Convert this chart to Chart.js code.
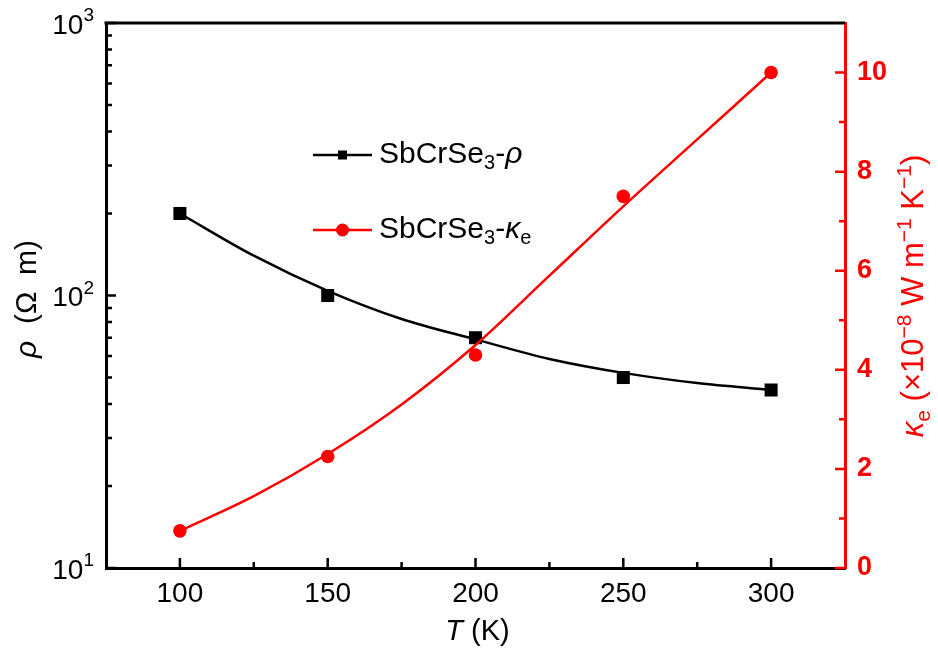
<!DOCTYPE html>
<html>
<head>
<meta charset="utf-8">
<script src="https://cdn.jsdelivr.net/npm/chart.js@4/dist/chart.umd.min.js"></script>
<style>
  body { margin: 0; background: #fff; }
  canvas { display: block; }
</style>
</head>
<body>
<canvas id="chart" width="938" height="651"></canvas>
<script>
// measured points
const temps = [100, 150, 200, 250, 300];
const rhoVals = [200, 100, 70, 50, 45];
const kappaVals = [0.75, 2.25, 4.3, 7.5, 10.0];

// fitted curves
const fitTemps = [100, 125, 150, 175, 200, 225, 250, 275, 300];
const rhoFit = [200, 140, 104, 82, 69, 58.5, 52, 47.7, 45];
const kappaFit = [0.75, 1.45, 2.3, 3.3, 4.5, 5.9, 7.3, 8.65, 10.0];

// ticks
const xTicks = [100, 150, 200, 250, 300];
const xMinor = [125, 175, 225, 275];
const logTicks = [10, 100, 1000];
const kTicks = [0, 2, 4, 6, 8, 10];
const kMinor = [1, 3, 5, 7, 9];

const FONT = '"Liberation Sans", Arial, sans-serif';
const RED = '#ff0000';

function pts(xs, ys) {
  return xs.map((x, i) => ({ x: x, y: ys[i] }));
}

// draw a run of text pieces: {t, size, style, dy}
function richWidth(ctx, parts) {
  let w = 0;
  parts.forEach(p => {
    ctx.font = (p.style || '') + ' ' + p.size + 'px ' + FONT;
    w += ctx.measureText(p.t).width;
  });
  return w;
}
function drawRich(ctx, parts, x, y) {
  let cx = x;
  parts.forEach(p => {
    ctx.font = (p.style || '') + ' ' + p.size + 'px ' + FONT;
    ctx.fillText(p.t, cx, y + (p.dy || 0));
    cx += ctx.measureText(p.t).width;
  });
}

function noPad(s) {
  s.paddingTop = 0;
  s.paddingBottom = 0;
}

const decorPlugin = {
  id: 'decor',
  afterDraw(chart) {
    const { ctx, chartArea: a, scales } = chart;
    const sx = scales.x, sy = scales.y, sk = scales.y2;
    ctx.save();
    ctx.lineCap = 'butt';

    // top frame line
    ctx.strokeStyle = '#000';
    ctx.lineWidth = 3;
    ctx.beginPath();
    ctx.moveTo(a.left - 1.5, a.top);
    ctx.lineTo(a.right, a.top);
    ctx.stroke();

    // x ticks (inward)
    ctx.lineWidth = 2.5;
    ctx.beginPath();
    xTicks.forEach(v => { const px = sx.getPixelForValue(v); ctx.moveTo(px, a.bottom); ctx.lineTo(px, a.bottom - 10); });
    xMinor.forEach(v => { const px = sx.getPixelForValue(v); ctx.moveTo(px, a.bottom); ctx.lineTo(px, a.bottom - 6); });
    // left log ticks
    logTicks.forEach(v => { const py = sy.getPixelForValue(v); ctx.moveTo(a.left, py); ctx.lineTo(a.left + 10, py); });
    [10, 100].forEach(dec => {
      for (let m = 2; m <= 9; m++) {
        const py = sy.getPixelForValue(dec * m);
        ctx.moveTo(a.left, py); ctx.lineTo(a.left + 6, py);
      }
    });
    ctx.stroke();

    // right ticks (red)
    ctx.strokeStyle = RED;
    ctx.beginPath();
    kTicks.forEach(v => { const py = sk.getPixelForValue(v); ctx.moveTo(a.right, py); ctx.lineTo(a.right - 10, py); });
    kMinor.forEach(v => { const py = sk.getPixelForValue(v); ctx.moveTo(a.right, py); ctx.lineTo(a.right - 6, py); });
    ctx.stroke();

    // left log tick labels 10^n
    ctx.fillStyle = '#000';
    ctx.textBaseline = 'middle';
    ctx.textAlign = 'left';
    logTicks.forEach(v => {
      const py = sy.getPixelForValue(v) + 3;
      const parts = [
        { t: '10', size: 28 },
        { t: String(Math.round(Math.log10(v))), size: 19, dy: -10 }
      ];
      const w = richWidth(ctx, parts);
      drawRich(ctx, parts, 94 - w, py);
    });

    // x title
    ctx.textBaseline = 'alphabetic';
    const tParts = [
      { t: 'T', size: 29, style: 'italic' },
      { t: ' (K)', size: 29 }
    ];
    let w = richWidth(ctx, tParts);
    drawRich(ctx, tParts, (a.left + a.right) / 2 - w / 2 + 2, 640);

    // left title (rotated)
    ctx.save();
    ctx.translate(36, 299);
    ctx.rotate(-Math.PI / 2);
    const lParts = [
      { t: 'ρ', size: 30, style: 'italic' },
      { t: '  (Ω  m)', size: 30 }
    ];
    w = richWidth(ctx, lParts);
    drawRich(ctx, lParts, -w / 2, 0);
    ctx.restore();

    // right title (rotated)
    ctx.save();
    ctx.fillStyle = RED;
    ctx.translate(923, 296);
    ctx.rotate(-Math.PI / 2);
    const rParts = [
      { t: 'κ', size: 31, style: 'italic' },
      { t: 'e', size: 21, dy: 7 },
      { t: ' (×10', size: 31 },
      { t: '−8', size: 21, dy: -12 },
      { t: ' W m', size: 31 },
      { t: '−1', size: 21, dy: -12 },
      { t: ' K', size: 31 },
      { t: '−1', size: 21, dy: -12 },
      { t: ')', size: 31 }
    ];
    w = richWidth(ctx, rParts);
    drawRich(ctx, rParts, -w / 2, 0);
    ctx.restore();

    // legend
    const legendRows = [
      { y: 155, color: '#000', marker: 'rect', label: [
        { t: 'SbCrSe', size: 30 }, { t: '3', size: 20, dy: 8 }, { t: '-', size: 30 }, { t: 'ρ', size: 30, style: 'italic' }
      ] },
      { y: 230, color: RED, marker: 'circle', label: [
        { t: 'SbCrSe', size: 30 }, { t: '3', size: 20, dy: 8 }, { t: '-', size: 30 }, { t: 'κ', size: 30, style: 'italic' }, { t: 'e', size: 20, dy: 8 }
      ] }
    ];
    legendRows.forEach(r => {
      ctx.strokeStyle = r.color;
      ctx.fillStyle = r.color;
      ctx.lineWidth = 2.5;
      ctx.beginPath();
      ctx.moveTo(313, r.y); ctx.lineTo(372, r.y);
      ctx.stroke();
      if (r.marker === 'rect') {
        ctx.fillRect(342.5 - 4.5, r.y - 4.5, 9, 9);
      } else {
        ctx.beginPath();
        ctx.arc(342.5, r.y, 6.5, 0, Math.PI * 2);
        ctx.fill();
      }
      ctx.fillStyle = '#000';
      ctx.textBaseline = 'middle';
      drawRich(ctx, r.label, 379, r.y);
    });

    ctx.restore();
  }
};

new Chart(document.getElementById('chart'), {
  type: 'scatter',
  plugins: [decorPlugin],
  data: {
    datasets: [
      {
        label: 'kappa points',
        data: pts(temps, kappaVals),
        yAxisID: 'y2',
        showLine: false,
        pointStyle: 'circle',
        pointRadius: 6.8,
        pointBackgroundColor: RED,
        pointBorderWidth: 0
      },
      {
        label: 'kappa fit',
        data: pts(fitTemps, kappaFit),
        yAxisID: 'y2',
        showLine: true,
        cubicInterpolationMode: 'monotone',
        borderColor: RED,
        borderWidth: 2.5,
        pointRadius: 0
      },
      {
        label: 'rho points',
        data: pts(temps, rhoVals),
        yAxisID: 'y',
        showLine: false,
        pointStyle: 'rect',
        pointRadius: 9.2,
        pointBackgroundColor: '#000',
        pointBorderWidth: 0
      },
      {
        label: 'rho fit',
        data: pts(fitTemps, rhoFit),
        yAxisID: 'y',
        showLine: true,
        cubicInterpolationMode: 'monotone',
        borderColor: '#000',
        borderWidth: 2.5,
        pointRadius: 0
      }
    ]
  },
  options: {
    responsive: false,
    animation: false,
    layout: { padding: { top: 23, left: 0, right: 0, bottom: 0 } },
    plugins: {
      legend: { display: false },
      tooltip: { enabled: false }
    },
    scales: {
      x: {
        type: 'linear',
        min: 75,
        max: 325,
        afterBuildTicks: (s) => { s.ticks = xTicks.map(v => ({ value: v })); },
        afterFit: (s) => { s.height = 83; s.paddingLeft = 0; s.paddingRight = 0; },
        grid: { display: true, drawOnChartArea: false, drawTicks: false },
        border: { color: '#000', width: 3 },
        ticks: {
          padding: 9,
          color: '#000',
          font: { family: FONT, size: 28 },
          maxRotation: 0
        }
      },
      y: {
        type: 'logarithmic',
        position: 'left',
        min: 10,
        max: 1000,
        afterBuildTicks: (s) => { s.ticks = logTicks.map(v => ({ value: v })); },
        afterFit: (s) => { s.width = 106; noPad(s); },
        grid: { display: true, drawOnChartArea: false, drawTicks: false },
        border: { color: '#000', width: 3 },
        ticks: { display: false }
      },
      y2: {
        type: 'linear',
        position: 'right',
        min: 0,
        max: 11,
        afterBuildTicks: (s) => { s.ticks = kTicks.map(v => ({ value: v })); },
        afterFit: (s) => { s.width = 93; noPad(s); },
        grid: { display: true, drawOnChartArea: false, drawTicks: false },
        border: { color: RED, width: 3 },
        ticks: {
          padding: 12,
          color: RED,
          font: { family: FONT, size: 27, weight: 'bold' }
        }
      }
    }
  }
});
</script>
</body>
</html>
